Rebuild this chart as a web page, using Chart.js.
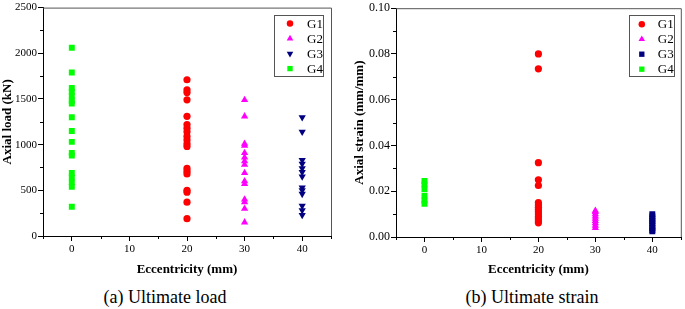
<!DOCTYPE html>
<html><head><meta charset="utf-8">
<script src="https://cdn.jsdelivr.net/npm/chart.js@4/dist/chart.umd.min.js"></script>
<style>
body{margin:0;background:#fff;width:685px;height:309px;overflow:hidden;position:relative;font-family:"Liberation Serif","Times New Roman",serif}
#c1{position:absolute;left:0;top:0}
#c2{position:absolute;left:340px;top:0}
.cap{position:absolute;top:287px;font-size:18px;line-height:20px;white-space:nowrap;transform:translateX(-50%);color:#000}
</style></head>
<body>
<canvas id="c1" width="340" height="280"></canvas>
<canvas id="c2" width="345" height="280"></canvas>
<div class="cap" style="left:165px">(a) Ultimate load</div>
<div class="cap" style="left:532px">(b) Ultimate strain</div>
<script>
// ---- data ----
const groupLabels = ['G1', 'G2', 'G3', 'G4'];
const groupEccentricity = [20, 30, 40, 0];           // mm
const xTickValues = [0, 10, 20, 30, 40];
const loadTickValues = [0, 500, 1000, 1500, 2000, 2500];
const strainTickValues = [0, 0.02, 0.04, 0.06, 0.08, 0.10];

// (a) Ultimate load, kN
const loadG1 = [1710, 1600, 1570, 1490, 1310, 1220, 1180, 1140, 1090, 1050, 1010, 980, 740, 710, 680, 500, 480, 370, 190];
const loadG2 = [1490, 1310, 1010, 990, 910, 860, 820, 780, 690, 600, 570, 400, 370, 300, 150];
const loadG3 = [1300, 1140, 830, 790, 740, 700, 650, 530, 500, 460, 330, 280, 230];
const loadG4 = [2060, 1790, 1620, 1580, 1530, 1480, 1450, 1300, 1150, 1030, 910, 880, 690, 640, 590, 540, 320];

// (b) Ultimate strain, mm/mm
const strainG1 = [0.080, 0.0735, 0.0325, 0.025, 0.0225, 0.015, 0.014, 0.013, 0.012, 0.011, 0.010, 0.009, 0.008, 0.007, 0.0062];
const strainG2 = [0.0115, 0.011, 0.010, 0.009, 0.008, 0.007, 0.006, 0.005, 0.004];
const strainG3 = [0.010, 0.009, 0.008, 0.007, 0.006, 0.005, 0.004, 0.003, 0.0025];
const strainG4 = [0.0245, 0.023, 0.021, 0.018, 0.016, 0.0145];

const FONT = '"Liberation Serif", "Times New Roman", serif';
const colors = ['#ff0000', '#ff00ff', '#000080', '#00ff00'];

function makeSets(series, styles) {
  return series.map((vals, i) => ({
    label: groupLabels[i],
    data: vals.map(v => ({ x: groupEccentricity[i], y: v })),
    backgroundColor: colors[i],
    borderColor: colors[i],
    borderWidth: 0,
    pointStyle: styles[i].style,
    rotation: styles[i].rot || 0,
    pointRadius: styles[i].r,
    pointHoverRadius: styles[i].r
  }));
}

const frameAndMinor = {
  id: 'frameAndMinor',
  afterDraw(chart, args, o) {
    const { ctx, chartArea: a } = chart;
    const xs = chart.scales.x, ys = chart.scales.y;
    ctx.save();
    ctx.strokeStyle = '#555';
    ctx.lineWidth = 1;
    ctx.beginPath();
    ctx.moveTo(a.left, a.top + 0.5); ctx.lineTo(a.right + 0.5, a.top + 0.5);
    ctx.lineTo(a.right + 0.5, a.bottom);
    ctx.stroke();
    ctx.strokeStyle = '#000';
    ctx.beginPath();
    o.xMinor.forEach(v => {
      const px = Math.round(xs.getPixelForValue(v)) + 0.5;
      ctx.moveTo(px, a.bottom); ctx.lineTo(px, a.bottom + 3);
    });
    o.yMinor.forEach(v => {
      const py = Math.round(ys.getPixelForValue(v)) + 0.5;
      ctx.moveTo(a.left, py); ctx.lineTo(a.left - 3, py);
    });
    ctx.stroke();
    ctx.restore();
  }
};

const boxLegend = {
  id: 'boxLegend',
  afterDraw(chart, args, o) {
    const { ctx, chartArea: a } = chart;
    const x1 = a.right - o.rightGap - o.w, y1 = a.top + 7;
    const h = 61;
    ctx.save();
    ctx.fillStyle = '#fff';
    ctx.fillRect(x1, y1, o.w, h);
    ctx.strokeStyle = '#555';
    ctx.lineWidth = 1;
    ctx.strokeRect(Math.round(x1) + 0.5, Math.round(y1) + 0.5, o.w, h);
    chart.data.datasets.forEach((ds, i) => {
      const cy = y1 + 9 + i * 15;
      ctx.fillStyle = ds.backgroundColor;
      Chart.helpers.drawPoint(ctx, { pointStyle: ds.pointStyle, rotation: ds.rotation, radius: ds.pointRadius * 0.9, borderWidth: 0 }, x1 + o.markerX, cy);
      ctx.fillStyle = '#000';
      ctx.font = '13px ' + FONT;
      ctx.textBaseline = 'middle';
      ctx.textAlign = 'left';
      ctx.fillText(ds.label, x1 + o.textX, cy + 0.5);
    });
    ctx.restore();
  }
};

function axes(yTicks, yMax, yFmt, yTitle, yWidth, xHeight, yTitlePad, yTickPad, yFontSize) {
  return {
    x: {
      type: 'linear', min: -5, max: 45,
      afterBuildTicks: s => { s.ticks = xTickValues.map(v => ({ value: v })); },
      afterFit: s => { s.height = xHeight; },
      border: { color: '#000', width: 1 },
      grid: { drawOnChartArea: false, drawTicks: true, tickLength: 5, color: '#000' },
      ticks: { color: '#000', font: { family: FONT, size: 11 }, padding: 2, maxRotation: 0 },
      title: { display: true, text: 'Eccentricity (mm)', color: '#000', font: { family: FONT, size: 13, weight: 'bold' }, padding: { top: 3, bottom: 3 } }
    },
    y: {
      type: 'linear', min: 0, max: yMax,
      afterBuildTicks: s => { s.ticks = yTicks.map(v => ({ value: v })); },
      afterFit: s => { s.width = yWidth; },
      border: { color: '#000', width: 1 },
      grid: { drawOnChartArea: false, drawTicks: true, tickLength: 5, color: '#000' },
      ticks: { color: '#000', font: { family: FONT, size: yFontSize }, padding: yTickPad, callback: yFmt },
      title: { display: true, text: yTitle, color: '#000', font: { family: FONT, size: 13, weight: 'bold' }, padding: { top: yTitlePad, bottom: 0 } }
    }
  };
}

new Chart(document.getElementById('c1'), {
  type: 'scatter',
  data: { datasets: makeSets([loadG1, loadG2, loadG3, loadG4], [
    { style: 'circle', r: 3.6 }, { style: 'triangle', r: 4.2 }, { style: 'triangle', r: 4.2, rot: 180 }, { style: 'rect', r: 4.2 }]) },
  options: {
    responsive: false, animation: false, events: [],
    layout: { padding: { top: 5, right: 9, left: 0, bottom: 0 } },
    plugins: { legend: { display: false }, tooltip: { enabled: false },
      frameAndMinor: { xMinor: [-5, 5, 15, 25, 35, 45], yMinor: [250, 750, 1250, 1750, 2250] },
      boxLegend: { w: 49, rightGap: 8, markerX: 16, textX: 33 } },
    scales: axes(loadTickValues, 2500, v => String(v), 'Axial load (kN)', 43, 44, 0, 1, 11)
  },
  plugins: [frameAndMinor, boxLegend]
});

new Chart(document.getElementById('c2'), {
  type: 'scatter',
  data: { datasets: makeSets([strainG1, strainG2, strainG3, strainG4], [
    { style: 'circle', r: 3.6 }, { style: 'triangle', r: 4.2 }, { style: 'rect', r: 4.2 }, { style: 'rect', r: 4.2 }]) },
  options: {
    responsive: false, animation: false, events: [],
    layout: { padding: { top: 5, right: 1, left: 0, bottom: 0 } },
    plugins: { legend: { display: false }, tooltip: { enabled: false },
      frameAndMinor: { xMinor: [-5, 5, 15, 25, 35, 45], yMinor: [0.01, 0.03, 0.05, 0.07, 0.09] },
      boxLegend: { w: 45, rightGap: 7, markerX: 13, textX: 29 } },
    scales: axes(strainTickValues, 0.10, v => Number(v).toFixed(2), 'Axial strain (mm/mm)', 56, 43, 12, 1, 12)
  },
  plugins: [frameAndMinor, boxLegend]
});
</script>
</body></html>
